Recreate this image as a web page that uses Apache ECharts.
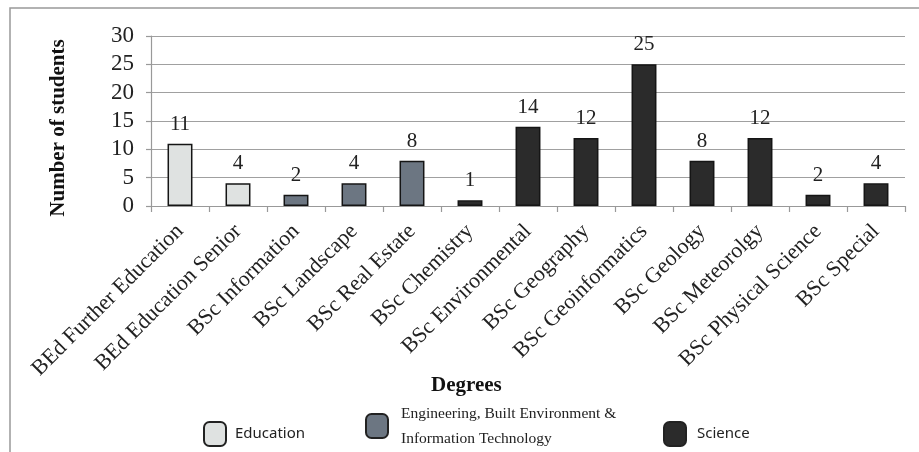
<!DOCTYPE html>
<html>
<head>
<meta charset="utf-8">
<script src="https://cdn.jsdelivr.net/npm/echarts@6/dist/echarts.min.js"></script>
<style>
html,body{margin:0;padding:0;background:#fff;}
#chart{width:919px;height:452px;}
</style>
</head>
<body>
<div id="chart"></div>
<script>
var categories = ['BEd Further Education','BEd Education Senior','BSc Information','BSc Landscape','BSc Real Estate','BSc Chemistry','BSc Environmental','BSc Geography','BSc Geoinformatics','BSc Geology','BSc Meteorolgy','BSc Physical Science','BSc Special'];
var students = [11,4,2,4,8,1,14,12,25,8,12,2,4];
var faculty = ['Education','Education','Engineering','Engineering','Engineering','Science','Science','Science','Science','Science','Science','Science','Science'];
var groupNames = ['Education','Engineering','Science'];
var groupLabels = ['Education','Engineering, Built Environment &\nInformation Technology','Science'];
var yTicks = [0,5,10,15,20,25,30];

var colors = {Education:'#dfe2e1', Engineering:'#6c7682', Science:'#2b2b2b'};
var serif = '"Liberation Serif", "DejaVu Serif", serif';

var chart = echarts.init(document.getElementById('chart'));

var series = groupNames.map(function(g, gi){
  return {
    name: groupLabels[gi],
    type: 'bar',
    stack: 'all',
    barWidth: '43%',
    data: students.map(function(v, i){ return faculty[i] === g ? v : '-'; }),
    itemStyle: {color: colors[g], borderColor: '#151515', borderWidth: 1.5},
    label: {show: true, position: 'top', distance: 9, color: '#222', fontFamily: serif, fontSize: 21},
    emphasis: {disabled: true}
  };
});

function legendFor(i, left, top, font, size, pad){
  return {
    data: [groupLabels[i]],
    left: left, top: top,
    itemWidth: 22, itemHeight: 24,
    icon: 'roundRect',
    itemStyle: {borderColor: '#222', borderWidth: 2},
    textStyle: {fontFamily: font, fontSize: size, color: '#222', lineHeight: 25, padding: [0,0,0,pad]},
    selectedMode: false
  };
}

chart.setOption({
  animation: false,
  backgroundColor: '#fff',
  title: {text: 'Degrees', left: 426, top: 370, textStyle: {fontFamily: serif, fontWeight: 'bold', fontSize: 21, color: '#111'}},
  grid: {left: 151, right: 14, top: 36, bottom: 246, containLabel: false},
  legend: [
    legendFor(0, 198, 416, '"Noto Sans", sans-serif', 15, 4),
    legendFor(1, 360, 396, serif, 15.5, 8),
    legendFor(2, 658, 416, '"Noto Sans", sans-serif', 15, 6)
  ],
  xAxis: {
    type: 'category',
    data: categories,
    axisLine: {lineStyle: {color: '#999', width: 1.2}},
    axisTick: {show: true, length: 6, lineStyle: {color: '#999', width: 1.2}},
    axisLabel: {rotate: 45, interval: 0, margin: 22, fontFamily: serif, fontSize: 22, color: '#222'}
  },
  yAxis: {
    type: 'value',
    min: yTicks[0], max: yTicks[yTicks.length-1], interval: 5,
    name: 'Number of students',
    nameLocation: 'middle', nameGap: 82, nameRotate: 90,
    nameTextStyle: {fontFamily: serif, fontWeight: 'bold', fontSize: 21, color: '#111', padding: [0,14,0,0]},
    axisLine: {show: true, lineStyle: {color: '#999', width: 1.2}},
    axisTick: {show: true, length: 5, lineStyle: {color: '#999', width: 1.2}},
    axisLabel: {margin: 17, fontFamily: serif, fontSize: 23, color: '#222'},
    splitLine: {lineStyle: {color: '#a0a0a0', width: 1.2}}
  },
  graphic: [{
    type: 'polyline',
    shape: {points: [[10,452],[10,8],[919,8]]},
    style: {stroke: '#999', lineWidth: 1.5, fill: null},
    silent: true
  }],
  series: series
});
</script>
</body>
</html>
